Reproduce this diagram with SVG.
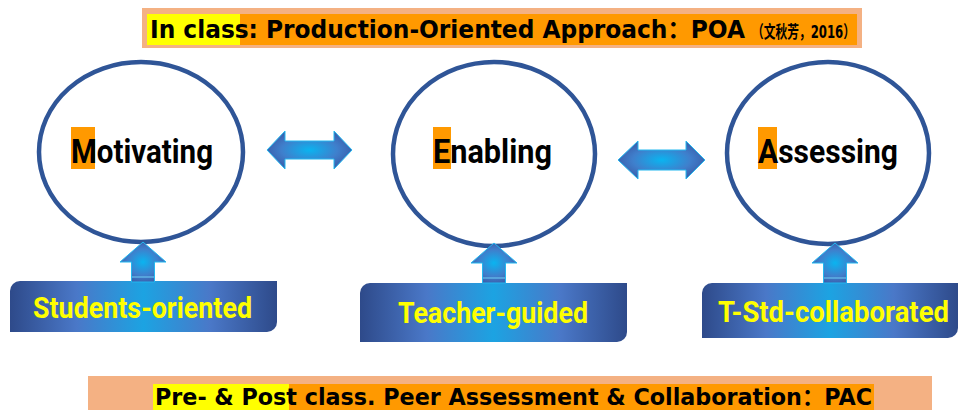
<svg xmlns="http://www.w3.org/2000/svg" width="960" height="410" viewBox="0 0 960 410">
<defs>
<linearGradient id="boxGrad" x1="0" y1="0" x2="1" y2="0">
<stop offset="0" stop-color="#2E4A8A"/>
<stop offset="0.25" stop-color="#4A78C8"/>
<stop offset="0.5" stop-color="#1CA3E2"/>
<stop offset="0.75" stop-color="#4A78C8"/>
<stop offset="1" stop-color="#2E4A8A"/>
</linearGradient>
<radialGradient id="arrGrad" cx="0.5" cy="0.5" r="0.55">
<stop offset="0" stop-color="#0AB4F0"/>
<stop offset="0.6" stop-color="#3F7FCC"/>
<stop offset="1" stop-color="#3A5BA8"/>
</radialGradient>
<style>
.circle{fill:#fff;stroke:#2F5597;stroke-width:4.5}
.hl{fill:#FF9900}
.lbl{font-family:Roboto,"DejaVu Sans",sans-serif;font-weight:bold;font-size:34px;fill:#000}
.sub{font-family:Roboto,"DejaVu Sans",sans-serif;font-weight:bold;font-size:29px;fill:#FFFF00}
.ban{font-family:"DejaVu Sans","Noto Sans CJK SC",sans-serif;font-weight:bold;font-size:24px;fill:#000}
.box{fill:url(#boxGrad)}
.arr{fill:url(#arrGrad);stroke:#22B8F0;stroke-width:1}
.seam{stroke:#6FD0F5;stroke-width:1}
</style>
</defs>

<g id="top-banner">
<rect x="142" y="8" width="720" height="40" fill="#F4B183"/>
<rect x="147" y="14" width="710" height="31" fill="#FF9900"/>
<rect x="147" y="14" width="93" height="31" fill="#FFFF00"/>
<text class="ban" x="150" y="38" textLength="595" lengthAdjust="spacingAndGlyphs">In class: Production-Oriented Approach：POA</text>
<text class="ban" x="752" y="38" style="font-size:17px" textLength="103" lengthAdjust="spacingAndGlyphs">（文秋芳，2016）</text>
</g>

<g id="motivating">
<ellipse class="circle" cx="141" cy="152" rx="102" ry="90"/>
<rect class="hl" x="71" y="127" width="24" height="42"/>
<text class="lbl" x="71" y="163" textLength="142" lengthAdjust="spacingAndGlyphs">Motivating</text>
</g>

<g id="enabling">
<ellipse class="circle" cx="494" cy="154" rx="101" ry="92"/>
<rect class="hl" x="433" y="127" width="18" height="42"/>
<text class="lbl" x="433" y="163" textLength="119" lengthAdjust="spacingAndGlyphs">Enabling</text>
</g>

<g id="assessing">
<ellipse class="circle" cx="828" cy="153" rx="101" ry="91"/>
<rect class="hl" x="758" y="127" width="19" height="42"/>
<text class="lbl" x="758" y="163" textLength="140" lengthAdjust="spacingAndGlyphs">Assessing</text>
</g>

<g id="students-oriented">
<path class="box" d="M20,281 H277 V322 A10,10 0 0 1 267,332 H10 V291 A10,10 0 0 1 20,281 Z"/>
<text class="sub" x="33" y="318" textLength="219" lengthAdjust="spacingAndGlyphs">Students-oriented</text>
</g>

<g id="teacher-guided">
<path class="box" d="M370,283 H627 V332 A10,10 0 0 1 617,342 H360 V293 A10,10 0 0 1 370,283 Z"/>
<text class="sub" x="398" y="323" textLength="190" lengthAdjust="spacingAndGlyphs">Teacher-guided</text>
</g>

<g id="t-std-collaborated">
<path class="box" d="M712,283 H958 V328 A10,10 0 0 1 948,338 H702 V293 A10,10 0 0 1 712,283 Z"/>
<text class="sub" x="718" y="322" textLength="231" lengthAdjust="spacingAndGlyphs">T-Std-collaborated</text>
</g>

<g id="connectors">
<polygon class="arr" points="267,150 285,131 285,141 334,141 334,131 352,150 334,169 334,159 285,159 285,169"/>
<polygon class="arr" points="618,160 638,141 638,150 686,150 686,141 705,160 686,179 686,170 638,170 638,179"/>
<polygon class="arr" points="143,242 166,262 154.5,262 154.5,282 131.5,282 131.5,262 120,262"/>
<line class="seam" x1="132" y1="277" x2="154" y2="277"/>
<polygon class="arr" points="494,243 517,263 505.5,263 505.5,283 482.5,283 482.5,263 471,263"/>
<line class="seam" x1="483" y1="278" x2="505" y2="278"/>
<polygon class="arr" points="835,243 858,263 846.5,263 846.5,283 823.5,283 823.5,263 812,263"/>
<line class="seam" x1="824" y1="278" x2="846" y2="278"/>
</g>

<g id="bottom-banner">
<rect x="88" y="376" width="844" height="34" fill="#F4B183"/>
<rect x="153" y="384" width="721" height="26" fill="#FF9900"/>
<rect x="153" y="384" width="136" height="26" fill="#FFFF00"/>
<text class="ban" x="155" y="405" style="font-size:23px" textLength="717" lengthAdjust="spacingAndGlyphs">Pre- &amp; Post class. Peer Assessment &amp;  Collaboration：PAC</text>
</g>
</svg>
